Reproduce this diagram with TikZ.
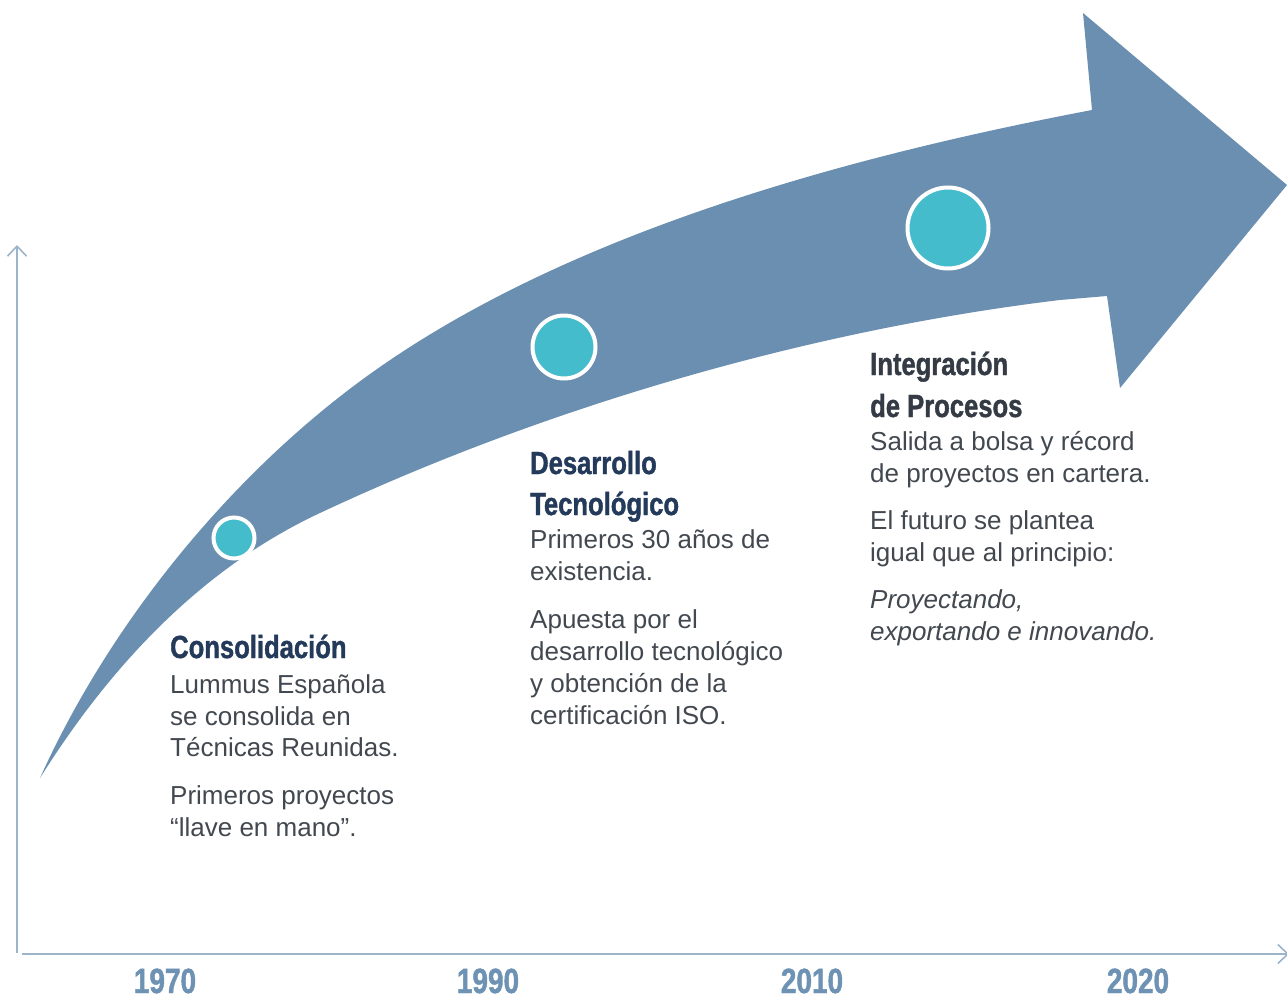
\documentclass[tikz,border=0pt]{standalone}
\usepackage{fontspec}
\setmainfont{Liberation Sans}
\newfontfamily\bodyfont{Liberation Sans}
\newfontfamily\headfont[FakeStretch=0.8,FakeBold=1.2]{Liberation Sans}
\usetikzlibrary{arrows.meta}
\definecolor{arrowblue}{HTML}{6B8FB0}
\definecolor{axisblue}{HTML}{9AB4CC}
\definecolor{yearblue}{HTML}{6E92B3}
\definecolor{dotteal}{HTML}{45BCCB}
\definecolor{navy}{HTML}{243A5A}
\definecolor{charcoal}{HTML}{343B45}
\definecolor{bodygray}{HTML}{42484F}
\tikzset{
  hd/.style={anchor=base west, inner sep=0pt, text=navy, font=\headfont\bfseries\fontsize{32}{40}\selectfont},
  hdb/.style={hd, text=charcoal},
  bd/.style={anchor=base west, inner sep=0pt, text=bodygray, font=\bodyfont\fontsize{26}{32}\selectfont},
  bdi/.style={bd, font=\bodyfont\itshape\fontsize{26}{32}\selectfont},
  yr/.style={anchor=base, inner sep=0pt, text=yearblue, font=\headfont\bfseries\fontsize{35}{40}\selectfont},
  dot/.style={circle, draw=white, line width=4pt, fill=dotteal, inner sep=0pt},
  axis/.style={draw=axisblue, line width=2pt, -{Straight Barb[length=10pt,width=19pt,line width=1.6pt]}}
}
\begin{document}
\begin{tikzpicture}[x=1pt,y=-1pt]
\useasboundingbox (0,0) rectangle (1287,998);

% big curved arrow
\fill[arrowblue]
  (40,778) .. controls (110,623) and (227,481) .. (355,385)
           .. controls (555,235) and (846.5,156.7) .. (1092,110)
  -- (1083,13) -- (1287,185) -- (1120,388) -- (1107,296) -- (1060,300)
           .. controls (812,329.8) and (548,406) .. (320,513)
           .. controls (200,569) and (109,668) .. (40,778)
  -- cycle;

% milestones
\node[dot, minimum size=41pt] (m1) at (234,538) {};
\node[dot, minimum size=63pt] (m2) at (564,347) {};
\node[dot, minimum size=81pt] (m3) at (948,228) {};

% axes
\coordinate (o1) at (17,953);
\coordinate (yt) at (17,245);
\coordinate (o2) at (22,954);
\coordinate (xt) at (1289,954);
\draw[axis] (o1) -- (yt);
\draw[axis] (o2) -- (xt);

% years
\node[yr] (y1970) at (165,993) {1970};
\node[yr] (y1990) at (488,993) {1990};
\node[yr] (y2010) at (812,993) {2010};
\node[yr] (y2020) at (1138,993) {2020};

% Consolidacion
\node[hd] (c0) at (170,658) {Consolidación};
\node[bd] (c1) at (170,693) {Lummus Española};
\node[bd] (c2) at (170,725) {se consolida en};
\node[bd] (c3) at (170,756) {Técnicas Reunidas.};
\node[bd] (c4) at (170,804) {Primeros proyectos};
\node[bd] (c5) at (170,836) {“llave en mano”.};

% Desarrollo Tecnologico
\node[hd] (d0) at (530,474) {Desarrollo};
\node[hd] (d1) at (530,515) {Tecnológico};
\node[bd] (d2) at (530,548) {Primeros 30 años de};
\node[bd] (d3) at (530,580) {existencia.};
\node[bd] (d4) at (530,628) {Apuesta por el};
\node[bd] (d5) at (530,660) {desarrollo tecnológico};
\node[bd] (d6) at (530,692) {y obtención de la};
\node[bd] (d7) at (530,724) {certificación ISO.};

% Integracion de Procesos
\node[hdb] (i0) at (870,375) {Integración};
\node[hdb] (i1) at (870,417) {de Procesos};
\node[bd] (i2) at (870,450) {Salida a bolsa y récord};
\node[bd] (i3) at (870,482) {de proyectos en cartera.};
\node[bd] (i4) at (870,529) {El futuro se plantea};
\node[bd] (i5) at (870,561) {igual que al principio:};
\node[bdi] (i6) at (870,608) {Proyectando,};
\node[bdi] (i7) at (870,640) {exportando e innovando.};
\end{tikzpicture}
\end{document}
